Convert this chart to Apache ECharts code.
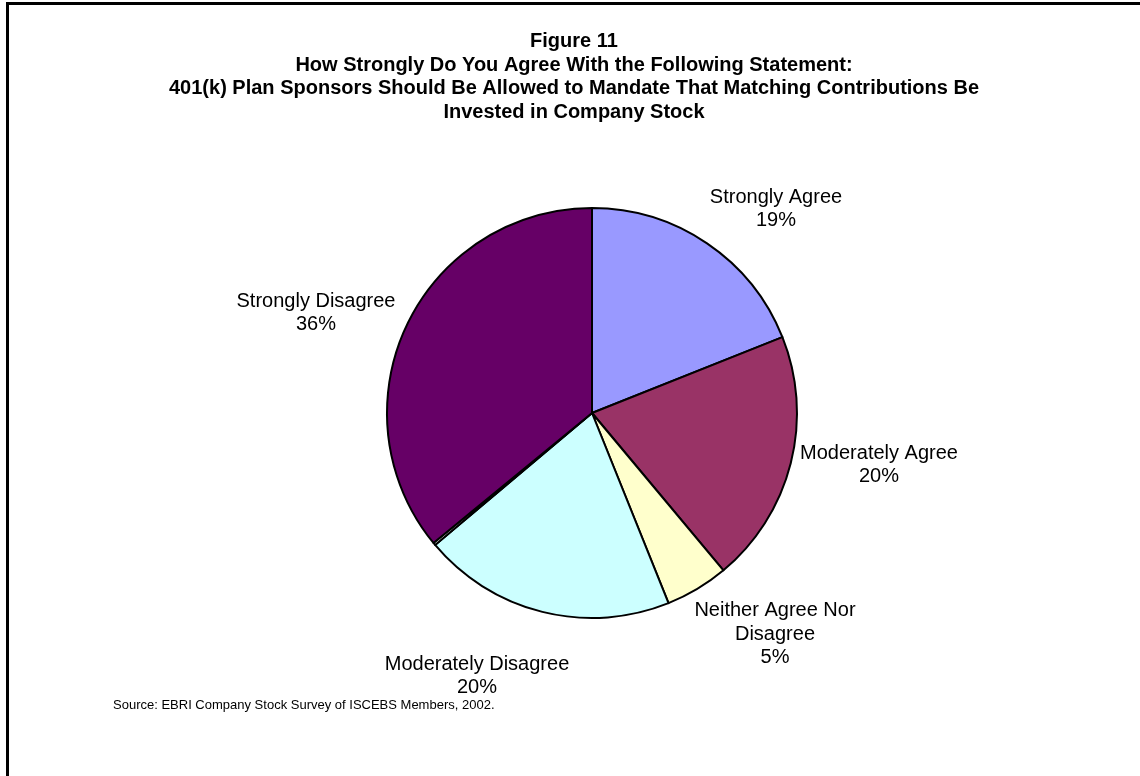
<!DOCTYPE html>
<html>
<head>
<meta charset="utf-8">
<script src="https://cdn.jsdelivr.net/npm/echarts@6/dist/echarts.min.js"></script>
<style>
  html, body { margin: 0; padding: 0; background: #ffffff; overflow: hidden; }
  #frame { position: absolute; left: 6px; top: 2px; width: 1400px; height: 1000px;
           border: 3px solid #000; box-sizing: border-box; }
  #chart { position: absolute; left: 0; top: 0; width: 1140px; height: 776px; }
</style>
</head>
<body>
<div id="frame"></div>
<div id="chart"></div>
<script>
// Survey responses (percent of respondents)
const categories = ['Strongly Agree', 'Moderately Agree', 'Neither Agree Nor\nDisagree',
                    'Moderately Disagree', 'Other', 'Strongly Disagree'];
const shares = [19, 20, 5, 20, 0.2, 36];
const showLabel = [true, true, true, true, false, true];

const colors = ['#9999FF', '#993366', '#FFFFCC', '#CCFFFF', '#FFFFFF', '#660066'];

// label block centres, in page pixels
const labelCentres = [[776, 209], [879, 465], [775, 634], [477, 676], [0, 0], [316, 313]];

const FONT = "'Liberation Sans', Arial, sans-serif";

const chart = echarts.init(document.getElementById('chart'), null, { renderer: 'canvas' });

chart.setOption({
  backgroundColor: 'transparent',
  animation: false,
  title: [{
    text: 'Figure 11\nHow Strongly Do You Agree With the Following Statement:\n' +
          '401(k) Plan Sponsors Should Be Allowed to Mandate That Matching Contributions Be\n' +
          'Invested in Company Stock',
    left: 574,
    textAlign: 'center',
    top: 30,
    padding: 0,
    textStyle: { fontFamily: FONT, fontSize: 20, fontWeight: 'bold', color: '#000', lineHeight: 23.5 }
  }, {
    text: 'Source: EBRI Company Stock Survey of ISCEBS Members, 2002.',
    left: 113,
    top: 699,
    padding: 0,
    textStyle: { fontFamily: FONT, fontSize: 13, fontWeight: 'normal', color: '#000' }
  }],
  series: [{
    type: 'pie',
    center: [592, 413],
    radius: 205,
    startAngle: 90,
    clockwise: true,
    avoidLabelOverlap: false,
    itemStyle: { borderColor: '#000', borderWidth: 2 },
    label: {
      show: true,
      position: 'outside',
      formatter: p => p.name + '\n' + p.value + '%',
      fontFamily: FONT,
      fontSize: 20,
      lineHeight: 23.5,
      color: '#000'
    },
    labelLine: { show: false },
    labelLayout: p => ({
      x: labelCentres[p.dataIndex][0],
      y: labelCentres[p.dataIndex][1],
      align: 'center',
      verticalAlign: 'middle'
    }),
    emphasis: { disabled: true },
    data: categories.map((c, i) => ({
      name: c,
      value: shares[i],
      itemStyle: { color: colors[i] },
      label: { show: showLabel[i] }
    }))
  }]
});
</script>
</body>
</html>
